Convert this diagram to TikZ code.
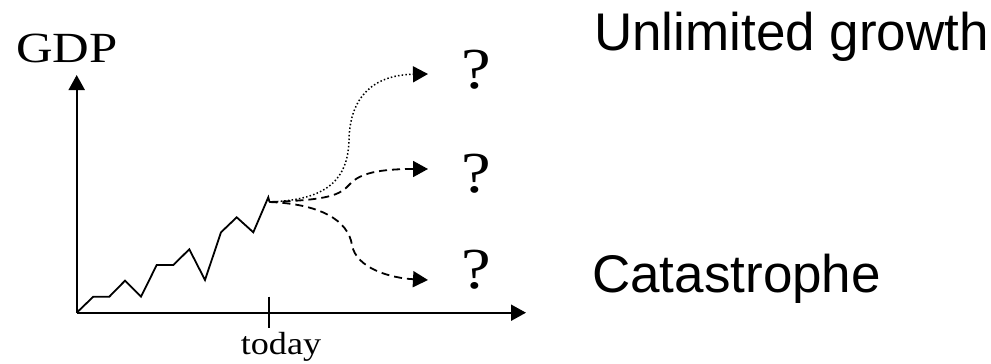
\documentclass[tikz,border=0pt]{standalone}
\usepackage{fontspec}
\setmainfont{Liberation Serif}
\newfontfamily\arialfont{Liberation Sans}
\usetikzlibrary{arrows.meta}
\tikzset{
  axisline/.style={line width=2pt,-{Triangle[length=15pt,width=16pt]}},
  dataline/.style={line width=1.8pt,line join=miter},
  dashline/.style={line width=1.8pt,dash pattern=on 8pt off 5pt,-{Triangle[length=15pt,width=16pt]}},
  dotline/.style={line width=1.5pt,dash pattern=on 1.5pt off 2.2pt,-{Triangle[length=15pt,width=16pt]}},
  serif/.style={inner sep=0pt,anchor=base},
  sans/.style={inner sep=0pt,anchor=base west,font=\arialfont\fontsize{53}{53}\selectfont},
}
\begin{document}
\begin{tikzpicture}[x=1pt,y=-1pt]
\useasboundingbox (0,0) rectangle (991,364);
% axes
\coordinate (O) at (76.7,312.7);
\coordinate (ytop) at (76.7,75);
\coordinate (xend) at (526,312.7);
\draw[axisline] (O) -- (ytop);
\draw[axisline] (O) -- (xend);
% tick
\coordinate (tickT) at (269.3,296.7);
\coordinate (tickB) at (269.3,328.3);
\draw[line width=2pt] (tickT) -- (tickB);
% data
\coordinate (peak) at (268.3,197.3);
\coordinate (S) at (269.5,202);
\draw[dataline] (O) -- (93.3,296.7) -- (109.3,296.7) -- (125,280.7) -- (141,296.7)
  -- (156.7,265) -- (173.3,265) -- (189.3,249.3) -- (205,280) -- (221,232.3)
  -- (236.7,217.3) -- (253.3,232.3) -- (peak) -- (S);
% arrow tips
\coordinate (t1) at (428,74);
\coordinate (t2) at (428,169);
\coordinate (t3) at (428,280);
\draw[dotline] (S) .. controls (320,200) and (348,185) .. (349,140)
  .. controls (350,95) and (375,75) .. (t1);
\draw[dashline] (S) .. controls (330,200) and (340,195) .. (350,184)
  .. controls (360,173) and (380,169) .. (t2);
\draw[dashline] (S) .. controls (320,204) and (348,220) .. (352,245)
  .. controls (356,268) and (390,278) .. (t3);
% texts
\node[serif,font=\fontsize{43}{43}\selectfont] (gdp) at (67,62) {\scalebox{1.18}[1]{GDP}};
\node[serif,font=\fontsize{32}{32}\selectfont] (today) at (281,354) {\scalebox{1.13}[1]{today}};
\node[serif,font=\fontsize{58}{58}\selectfont] (q1) at (476.5,88) {\scalebox{1.15}[1]{?}};
\node[serif,font=\fontsize{58}{58}\selectfont] (q2) at (476.5,192) {\scalebox{1.15}[1]{?}};
\node[serif,font=\fontsize{58}{58}\selectfont] (q3) at (476.5,288) {\scalebox{1.15}[1]{?}};
\node[sans] (ug) at (594,50) {Unlimited growth};
\node[sans] (cat) at (592,292) {Catastrophe};
\end{tikzpicture}
\end{document}
